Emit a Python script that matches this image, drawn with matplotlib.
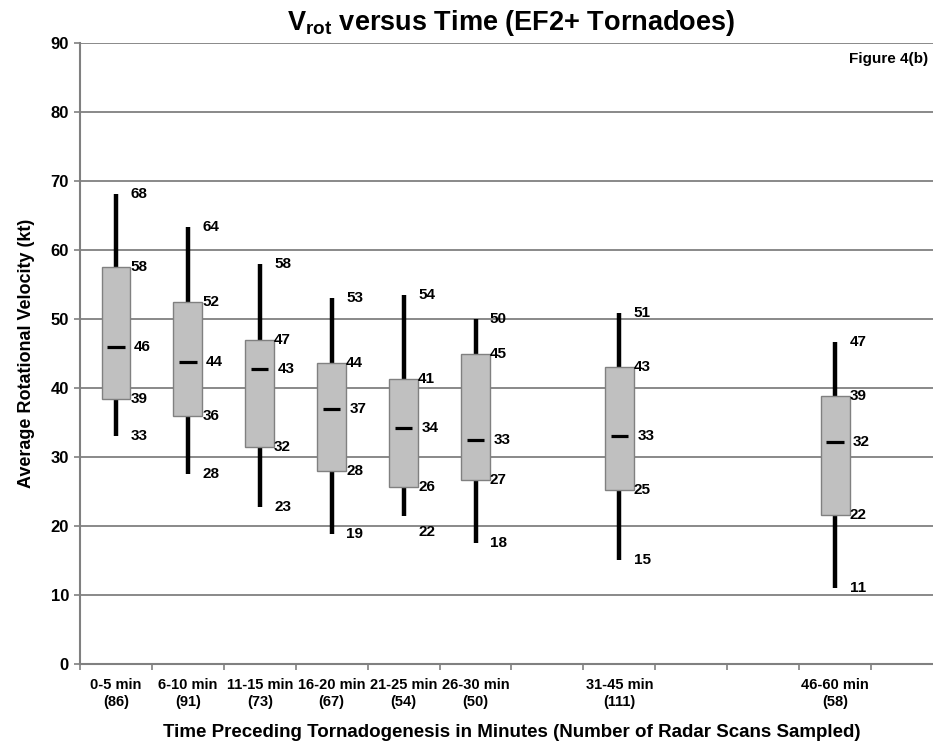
import numpy as np
import matplotlib
matplotlib.use("Agg")
import matplotlib.pyplot as plt

nan = np.nan
# ---- data ----
categories = ['0-5 min', '6-10 min', '11-15 min', '16-20 min', '21-25 min', '26-30 min',
              '', '31-45 min', '', '', '46-60 min', '']
scan_counts = [86, 91, 73, 67, 54, 50, None, 111, None, None, 58, None]

v_max = [68.1, 63.4, 58.0, 53.1, 53.5, 50.0, nan, 50.8, nan, nan, 46.6, nan]
v_q3 = [57.5, 52.4, 47.0, 43.6, 41.3, 44.9, nan, 43.0, nan, nan, 38.9, nan]
v_med = [46.0, 43.8, 42.8, 36.9, 34.2, 32.5, nan, 33.1, nan, nan, 32.2, nan]
v_q1 = [38.4, 35.9, 31.5, 27.9, 25.7, 26.7, nan, 25.2, nan, nan, 21.6, nan]
v_min = [33.0, 27.6, 22.8, 18.8, 21.5, 17.6, nan, 15.1, nan, nan, 11.0, nan]

lab_max = [68, 64, 58, 53, 54, 50, None, 51, None, None, 47, None]
lab_q3 = [58, 52, 47, 44, 41, 45, None, 43, None, None, 39, None]
lab_med = [46, 44, 43, 37, 34, 33, None, 33, None, None, 32, None]
lab_q1 = [39, 36, 32, 28, 26, 27, None, 25, None, None, 22, None]
lab_min = [33, 28, 23, 19, 22, 18, None, 15, None, None, 11, None]

yticks = list(range(0, 91, 10))

# ---- style ----
plt.rcParams['font.family'] = ['Liberation Sans', 'DejaVu Sans']
plt.rcParams['mathtext.fontset'] = 'custom'
plt.rcParams['mathtext.rm'] = 'Liberation Sans:bold'
plt.rcParams['mathtext.it'] = 'Liberation Sans:bold'
plt.rcParams['mathtext.bf'] = 'Liberation Sans:bold'
plt.rcParams['mathtext.default'] = 'rm'

fig = plt.figure(figsize=(9.33, 7.45), dpi=100)
ax = fig.add_axes([80/933, 1-664/745, (943-80)/933, (664-43)/745])

n = len(categories)
x = np.arange(n)
ax.set_xlim(-0.5, n - 0.5)
ax.set_ylim(0, 90)

grid_c = '#808080'
ax.set_yticks(yticks)
ax.yaxis.grid(True, color=grid_c, linewidth=1.3, zorder=0)
ax.set_axisbelow(True)
for s in ['top', 'right']:
    ax.spines[s].set_visible(False)
for s in ['left', 'bottom']:
    ax.spines[s].set_color(grid_c)
    ax.spines[s].set_linewidth(1.5)
ax.tick_params(axis='y', length=4, color=grid_c, width=1.2, labelsize=12, pad=4)
for t in ax.get_yticklabels():
    t.set_fontweight('bold')

# x ticks at category boundaries, labels at centres
ax.set_xticks(np.arange(-0.5, n, 1.0))
ax.set_xticklabels([])
ax.tick_params(axis='x', which='major', length=4, color=grid_c, width=1.2)
ax.set_xticks(x, minor=True)
xt = [f"{c}\n({k})" if c else '' for c, k in zip(categories, scan_counts)]
ax.set_xticklabels(xt, minor=True, fontsize=10.5, fontweight='bold', linespacing=1.3)
ax.tick_params(axis='x', which='minor', length=0, pad=10)

hw = 0.2
for i in range(n):
    if np.isnan(v_med[i]):
        continue
    ax.plot([x[i], x[i]], [v_min[i], v_max[i]], color='black', linewidth=3.2,
            solid_capstyle='butt', zorder=2)
    ax.bar(x[i], v_q3[i] - v_q1[i], bottom=v_q1[i], width=2*hw, color='#c0c0c0',
           edgecolor=grid_c, linewidth=1.0, zorder=3)
    ax.plot([x[i]-0.12, x[i]+0.12], [v_med[i], v_med[i]], color='black', linewidth=2.3,
            solid_capstyle='butt', zorder=4)
    kw = dict(fontsize=11, fontweight='bold', va='center', ha='left', zorder=5)
    ax.text(x[i]+hw, v_max[i], str(lab_max[i]), **kw)
    ax.text(x[i]+hw, v_q3[i], str(lab_q3[i]), **kw)
    ax.text(x[i]+0.25, v_med[i], str(lab_med[i]), **kw)
    ax.text(x[i]+hw, v_q1[i], str(lab_q1[i]), **kw)
    dy = -12 if i == 4 else 0
    ax.annotate(str(lab_min[i]), (x[i]+hw, v_min[i]), xytext=(0, dy),
                textcoords='offset points', **kw)

ax.set_ylabel('Average Rotational Velocity (kt)', fontsize=13, fontweight='bold', labelpad=11)
ax.set_xlabel('Time Preceding Tornadogenesis in Minutes (Number of Radar Scans Sampled)',
              fontsize=13.5, fontweight='bold', labelpad=11)
ax.set_title(r'V$_{rot}$ versus Time (EF2+ Tornadoes)', fontsize=19.5, fontweight='bold', pad=9)
fig.text(928/933, 1-59/745, 'Figure 4(b)', fontsize=11, fontweight='bold', ha='right', va='center')

fig.savefig('out.png', dpi=100)
